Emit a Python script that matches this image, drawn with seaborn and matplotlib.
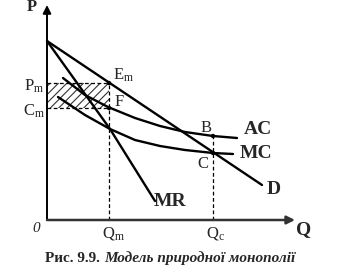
import matplotlib
matplotlib.use("Agg")
import matplotlib.pyplot as plt
import seaborn as sns
from matplotlib.patches import Rectangle

# ---- data (quantity, price in chart units) ----
d_q = [0, 215]
d_p = [179, 35]
mr_q = [0, 63, 108]
mr_p = [179, 91, 19]
ac_q = [16, 38, 61, 88, 113, 138, 166, 190]
ac_p = [142, 125, 113, 102, 94, 88, 84, 82]
mc_q = [11, 38, 63, 88, 113, 138, 166, 186]
mc_p = [123, 105, 91, 80, 74, 70, 67, 66]
q_m, q_c = 62, 166
p_m, c_m = 137, 112
ac_at_qc, mc_at_qc = 84, 67

sns.set_style("white")
plt.rcParams['font.family'] = ['Liberation Serif', 'DejaVu Serif']
plt.rcParams['mathtext.fontset'] = 'custom'
plt.rcParams['mathtext.rm'] = 'Liberation Serif'
plt.rcParams['mathtext.it'] = 'Liberation Serif:italic'
plt.rcParams['hatch.linewidth'] = 0.8

fig = plt.figure(figsize=(3.4, 2.78), dpi=100)
ax = fig.add_axes([0, 0, 1, 1])

# axes with arrows
ax.annotate('', xy=(0, 215), xytext=(0, 0),
            arrowprops=dict(arrowstyle='-|>', color='black', lw=1.4,
                            mutation_scale=12, shrinkA=0, shrinkB=0))
ax.annotate('', xy=(248, 0), xytext=(0, 0),
            arrowprops=dict(arrowstyle='-|>', color='#333333', lw=1.8,
                            mutation_scale=12, shrinkA=0, shrinkB=0))

# hatched area
ax.add_patch(Rectangle((0, c_m), q_m, p_m - c_m, fill=False, hatch='////',
                       edgecolor='#333333', lw=0))

# dashed guides
dash = dict(color='black', lw=0.9, ls=(0, (3, 2)))
ax.plot([q_m, q_m], [0, p_m], **dash)
ax.plot([0, q_m], [p_m, p_m], **dash)
ax.plot([0, q_m], [c_m, c_m], **dash)
ax.plot([q_c, q_c], [0, ac_at_qc], **dash)

lw = 1.7
for xs, ys in [(d_q, d_p), (mr_q, mr_p), (ac_q, ac_p), (mc_q, mc_p)]:
    sns.lineplot(x=xs, y=ys, ax=ax, color='black', lw=lw, sort=False,
                 estimator=None)

sns.scatterplot(x=[q_m, q_m, q_c, q_c], y=[p_m, c_m, ac_at_qc, mc_at_qc], ax=ax,
                color='black', s=10, edgecolor='none', zorder=5)
ax.set_xlim(-47, 293)
ax.set_ylim(-58, 220)
ax.axis('off')

bold = dict(fontweight='bold', fontsize=14, ha='center', va='center')
reg = dict(fontsize=12, ha='center', va='center')
ax.text(-15, 213, 'P', fontweight='bold', fontsize=12, ha='center', va='center')
ax.text(257, -10, 'Q', **bold)
ax.text(211, 91, 'AC', **bold)
ax.text(209, 66, 'MC', **bold)
ax.text(227, 31, 'D', **bold)
ax.text(123, 18, 'MR', **bold)

ax.text(-11, -9, '0', fontsize=11, style='italic', ha='center', va='center')
ax.text(66, -14, r'$\mathrm{Q_m}$', **reg)
ax.text(169, -13, r'$\mathrm{Q_c}$', **reg)
ax.text(-13, 134, r'$\mathrm{P_m}$', **reg)
ax.text(-13, 109, r'$\mathrm{C_m}$', **reg)
ax.text(77, 145, r'$\mathrm{E_m}$', **reg)
ax.text(72, 118, 'F', **reg)
ax.text(159, 92, 'B', **reg)
ax.text(156, 56, 'C', **reg)

ax.text(57, -38, 'Рис. 9.9. ', fontsize=11, fontweight='bold', ha='right', va='center')
ax.text(57, -38, 'Модель природної монополії', fontsize=11, fontweight='bold',
        style='italic', ha='left', va='center')

fig.savefig('out.png', dpi=100)
